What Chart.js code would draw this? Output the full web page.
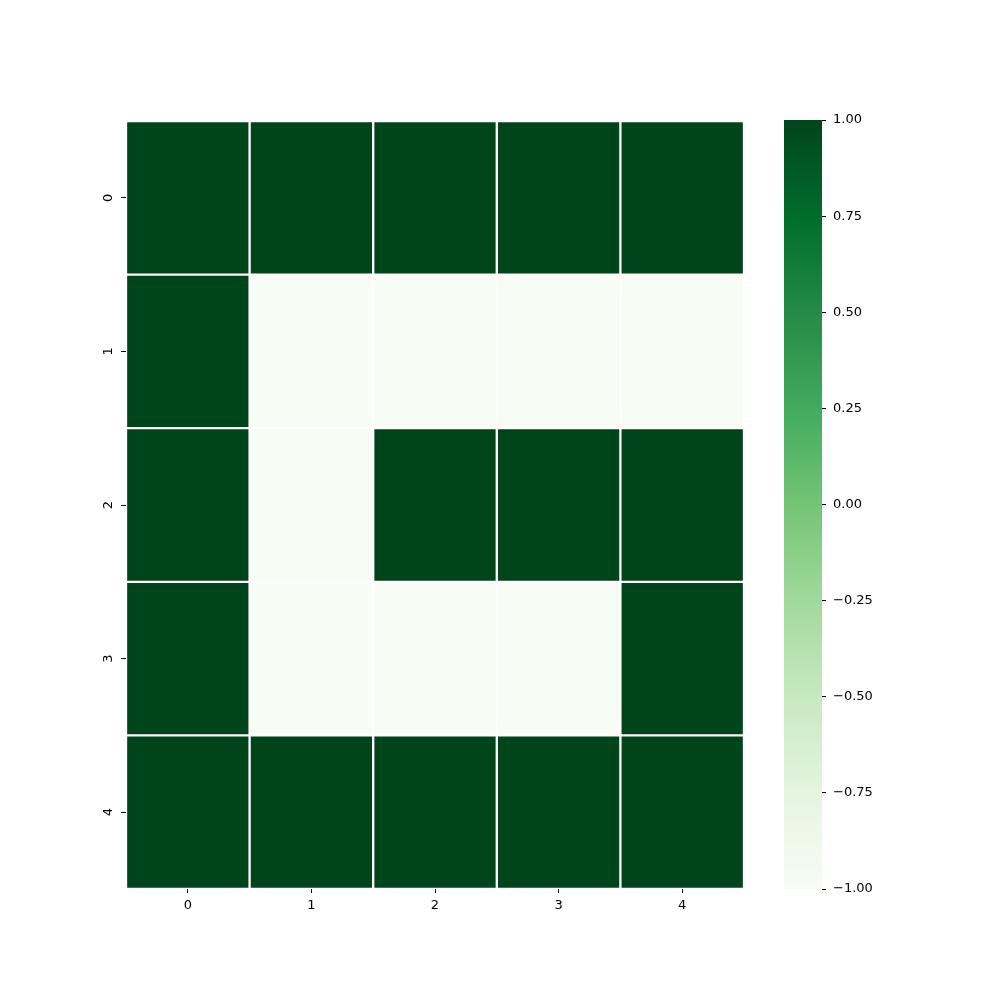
<!DOCTYPE html>
<html><head><meta charset="utf-8">
<script src="https://cdn.jsdelivr.net/npm/chart.js@4/dist/chart.umd.min.js"></script>
<style>
html,body{margin:0;padding:0;background:#fff;}
#wrap{position:relative;width:1000px;height:1000px;}
#c1{position:absolute;left:0;top:0;}
#c2{position:absolute;left:760px;top:0;}
</style></head><body>
<div id="wrap">
<canvas id="c1" width="760" height="1000"></canvas>
<canvas id="c2" width="240" height="1000"></canvas>
</div>
<script>
const colLabels = ['0','1','2','3','4'];
const rowLabels = ['0','1','2','3','4'];
const row0 = [1, 1, 1, 1, 1];
const row1 = [1, -1, -1, -1, -1];
const row2 = [1, -1, 1, 1, 1];
const row3 = [1, -1, -1, -1, 1];
const row4 = [1, 1, 1, 1, 1];
const rows = [row0, row1, row2, row3, row4];
const cbMin = -1, cbMax = 1, cbStep = 0.25;

const greens = ['#f7fcf5','#e5f5e0','#c7e9c0','#a1d99b','#74c476','#41ab5d','#238b45','#006d2c','#00441b'];
function hex(h){return [parseInt(h.slice(1,3),16),parseInt(h.slice(3,5),16),parseInt(h.slice(5,7),16)];}
function cmap(v){
  let t=(v-cbMin)/(cbMax-cbMin); t=Math.max(0,Math.min(1,t));
  const p=t*(greens.length-1); const i=Math.min(Math.floor(p),greens.length-2); const f=p-i;
  const a=hex(greens[i]), b=hex(greens[i+1]);
  return 'rgb('+a.map((x,k)=>Math.round(x+(b[k]-x)*f)).join(',')+')';
}
Chart.defaults.font.family = 'DejaVu Sans';
Chart.defaults.font.size = 13;
Chart.defaults.color = '#000';

const datasets = rows.map((vals, r) => ({
  data: vals.map(() => [r - 0.5, r + 0.5]),
  backgroundColor: vals.map(v => cmap(v)),
  borderColor: '#ffffff',
  borderWidth: 1.5,
  borderSkipped: false,
  grouped: false,
  barPercentage: 1,
  categoryPercentage: 1
}));

new Chart(document.getElementById('c1'), {
  type: 'bar',
  data: { labels: colLabels, datasets },
  options: {
    responsive: false, animation: false,
    layout: { padding: { top: 121, right: 16, left: 0, bottom: 0 } },
    plugins: { legend: { display: false }, tooltip: { enabled: false } },
    scales: {
      x: {
        type: 'category',
        grid: { offset: false, drawOnChartArea: false, drawTicks: true, tickLength: 4, tickColor: '#000', tickWidth: 1 },
        border: { display: false },
        ticks: { padding: 5, maxRotation: 0, minRotation: 0 },
        afterFit: s => { s.height = 111; }
      },
      y: {
        type: 'linear', min: -0.5, max: 4.5, reverse: true,
        grid: { drawOnChartArea: false, drawTicks: true, tickLength: 5, tickColor: '#000', tickWidth: 1 },
        border: { display: false },
        afterBuildTicks: s => { s.ticks = rowLabels.map((l, i) => ({ value: i })); },
        ticks: { minRotation: 90, maxRotation: 90, padding: 8, crossAlign: 'center', callback: (v) => rowLabels[v] },
        afterFit: s => { s.width = 126; }
      }
    }
  }
});

const cbTicks = [];
for (let v = cbMin; v <= cbMax + 1e-9; v += cbStep) cbTicks.push(+v.toFixed(2));

new Chart(document.getElementById('c2'), {
  type: 'bar',
  data: { labels: ['cb'], datasets: [{
    data: [[cbMin, cbMax]],
    backgroundColor: (ctx) => {
      const ca = ctx.chart.chartArea; if (!ca) return greens[4];
      const g = ctx.chart.ctx.createLinearGradient(0, ca.bottom, 0, ca.top);
      greens.forEach((c, i) => g.addColorStop(i / (greens.length - 1), c));
      return g;
    },
    borderWidth: 0, barPercentage: 1, categoryPercentage: 1
  }]},
  options: {
    responsive: false, animation: false,
    layout: { padding: { top: 120, left: 24, right: 0, bottom: 111 } },
    plugins: { legend: { display: false }, tooltip: { enabled: false } },
    scales: {
      x: { display: false },
      y: {
        type: 'linear', position: 'right', min: cbMin, max: cbMax,
        grid: { drawOnChartArea: false, drawTicks: true, tickLength: 4, tickColor: '#000' },
        border: { display: false },
        afterBuildTicks: s => { s.ticks = cbTicks.map(v => ({ value: v })); },
        ticks: { padding: 7, callback: v => (v < 0 ? '\u2212' : '') + Math.abs(v).toFixed(2) },
        afterFit: s => { s.width = 178; }
      }
    }
  }
});
</script>
</body></html>
